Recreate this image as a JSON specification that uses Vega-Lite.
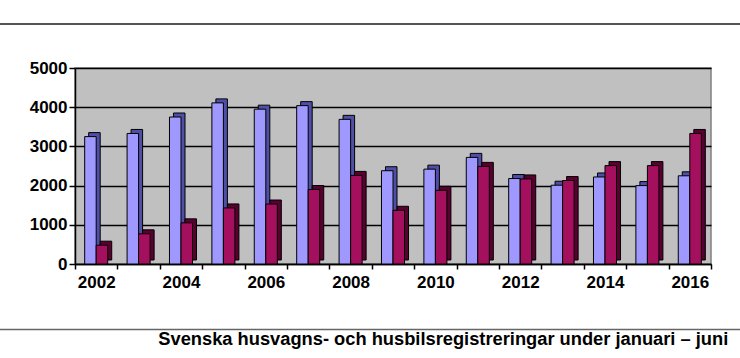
{
  "$schema": "https://vega.github.io/schema/vega-lite/v6.json",
  "width": 636,
  "height": 196,
  "autosize": {"type": "none"},
  "padding": {"left": 75, "top": 68, "right": 29, "bottom": 94},
  "background": "white",
  "config": {
    "view": {"fill": "#C0C0C0", "stroke": "#808080", "strokeWidth": 1.5},
    "font": "Liberation Sans",
    "axisY": {
      "labelFont": "Liberation Sans", "labelFontWeight": "bold", "labelFontSize": 17,
      "labelColor": "black", "labelPadding": 2,
      "domainColor": "black", "domainWidth": 1.5,
      "tickColor": "black", "tickSize": 6, "tickWidth": 1.5,
      "grid": true, "gridColor": "black", "gridWidth": 1.3,
      "gridOpacity": 1, "domainOpacity": 1
    }
  },
  "title": {
    "text": "Svenska husvagns- och husbilsregistreringar under januari – juni",
    "orient": "bottom",
    "anchor": "end",
    "fontSize": 18.3,
    "fontWeight": "bold",
    "font": "Liberation Sans",
    "color": "black",
    "offset": 1,
    "dx": -13
  },
  "datasets": {
    "bars": [
      {"year": 2002, "series": "Husvagnar", "value": 3250},
      {"year": 2002, "series": "Husbilar", "value": 480},
      {"year": 2003, "series": "Husvagnar", "value": 3330},
      {"year": 2003, "series": "Husbilar", "value": 770},
      {"year": 2004, "series": "Husvagnar", "value": 3750},
      {"year": 2004, "series": "Husbilar", "value": 1050},
      {"year": 2005, "series": "Husvagnar", "value": 4110},
      {"year": 2005, "series": "Husbilar", "value": 1430},
      {"year": 2006, "series": "Husvagnar", "value": 3950},
      {"year": 2006, "series": "Husbilar", "value": 1530},
      {"year": 2007, "series": "Husvagnar", "value": 4040},
      {"year": 2007, "series": "Husbilar", "value": 1900},
      {"year": 2008, "series": "Husvagnar", "value": 3690},
      {"year": 2008, "series": "Husbilar", "value": 2260},
      {"year": 2009, "series": "Husvagnar", "value": 2380},
      {"year": 2009, "series": "Husbilar", "value": 1370},
      {"year": 2010, "series": "Husvagnar", "value": 2420},
      {"year": 2010, "series": "Husbilar", "value": 1880},
      {"year": 2011, "series": "Husvagnar", "value": 2720},
      {"year": 2011, "series": "Husbilar", "value": 2490},
      {"year": 2012, "series": "Husvagnar", "value": 2180},
      {"year": 2012, "series": "Husbilar", "value": 2170},
      {"year": 2013, "series": "Husvagnar", "value": 2010},
      {"year": 2013, "series": "Husbilar", "value": 2130},
      {"year": 2014, "series": "Husvagnar", "value": 2220},
      {"year": 2014, "series": "Husbilar", "value": 2510},
      {"year": 2015, "series": "Husvagnar", "value": 2000},
      {"year": 2015, "series": "Husbilar", "value": 2510},
      {"year": 2016, "series": "Husvagnar", "value": 2250},
      {"year": 2016, "series": "Husbilar", "value": 3330}
    ]
  },
  "layer": [
    {
      "data": {"name": "bars"},
      "mark": {"type": "bar", "yOffset": -4, "stroke": "black", "strokeWidth": 1},
      "encoding": {
        "x": {"field": "year", "type": "ordinal", "scale": {"paddingInner": 0, "paddingOuter": 0}, "axis": null},
        "xOffset": {"field": "series", "sort": ["Husvagnar", "Husbilar"], "scale": {"paddingOuter": 0.84, "paddingInner": 0, "range": [4, 46.4]}},
        "y": {"field": "value", "type": "quantitative", "scale": {"domain": [0, 5000]}, "axis": {"title": null, "values": [0, 1000, 2000, 3000, 4000, 5000], "format": "d"}},
        "color": {"field": "series", "scale": {"domain": ["Husvagnar", "Husbilar"], "range": ["#4F4FA8", "#5A0030"]}, "legend": null}
      }
    },
    {
      "data": {"name": "bars"},
      "mark": {"type": "bar", "stroke": "black", "strokeWidth": 1},
      "encoding": {
        "x": {
          "field": "year", "type": "ordinal",
          "scale": {"paddingInner": 0, "paddingOuter": 0},
          "axis": {
            "title": null, "labelAngle": 0,
            "labelExpr": "datum.value % 2 == 0 ? datum.label : ''",
            "tickBand": "extent",
            "domainColor": "black", "domainWidth": 1.5,
            "tickColor": "black", "tickSize": 5, "tickWidth": 1.5,
            "labelFont": "Liberation Sans", "labelFontWeight": "bold", "labelFontSize": 17,
            "labelColor": "black", "labelPadding": 5
          }
        },
        "xOffset": {"field": "series", "sort": ["Husvagnar", "Husbilar"], "scale": {"paddingOuter": 0.84, "paddingInner": 0, "range": [0, 42.4]}},
        "y": {"field": "value", "type": "quantitative", "scale": {"domain": [0, 5000]}, "axis": {"title": null, "values": [0, 1000, 2000, 3000, 4000, 5000], "format": "d"}},
        "color": {"field": "series", "scale": {"domain": ["Husvagnar", "Husbilar"], "range": ["#9F99FF", "#A5105E"]}, "legend": null}
      }
    },
    {
      "data": {"values": [{}]},
      "mark": {"type": "rule", "color": "#555555", "strokeWidth": 2, "clip": false},
      "encoding": {
        "x": {"datum": -0.118, "type": "quantitative", "scale": {"domain": [0, 1]}, "axis": null},
        "x2": {"datum": 1.046},
        "y": {"datum": 6122, "type": "quantitative", "axis": {"title": null, "values": [0, 1000, 2000, 3000, 4000, 5000], "format": "d"}}
      }
    },
    {
      "data": {"values": [{}]},
      "mark": {"type": "rule", "color": "#666666", "strokeWidth": 1.5, "clip": false},
      "encoding": {
        "x": {"datum": -0.118, "type": "quantitative", "scale": {"domain": [0, 1]}, "axis": null},
        "x2": {"datum": 1.046},
        "y": {"datum": -1671, "type": "quantitative", "axis": {"title": null, "values": [0, 1000, 2000, 3000, 4000, 5000], "format": "d"}}
      }
    }
  ],
  "resolve": {"scale": {"x": "independent", "color": "independent", "xOffset": "independent"}}
}
